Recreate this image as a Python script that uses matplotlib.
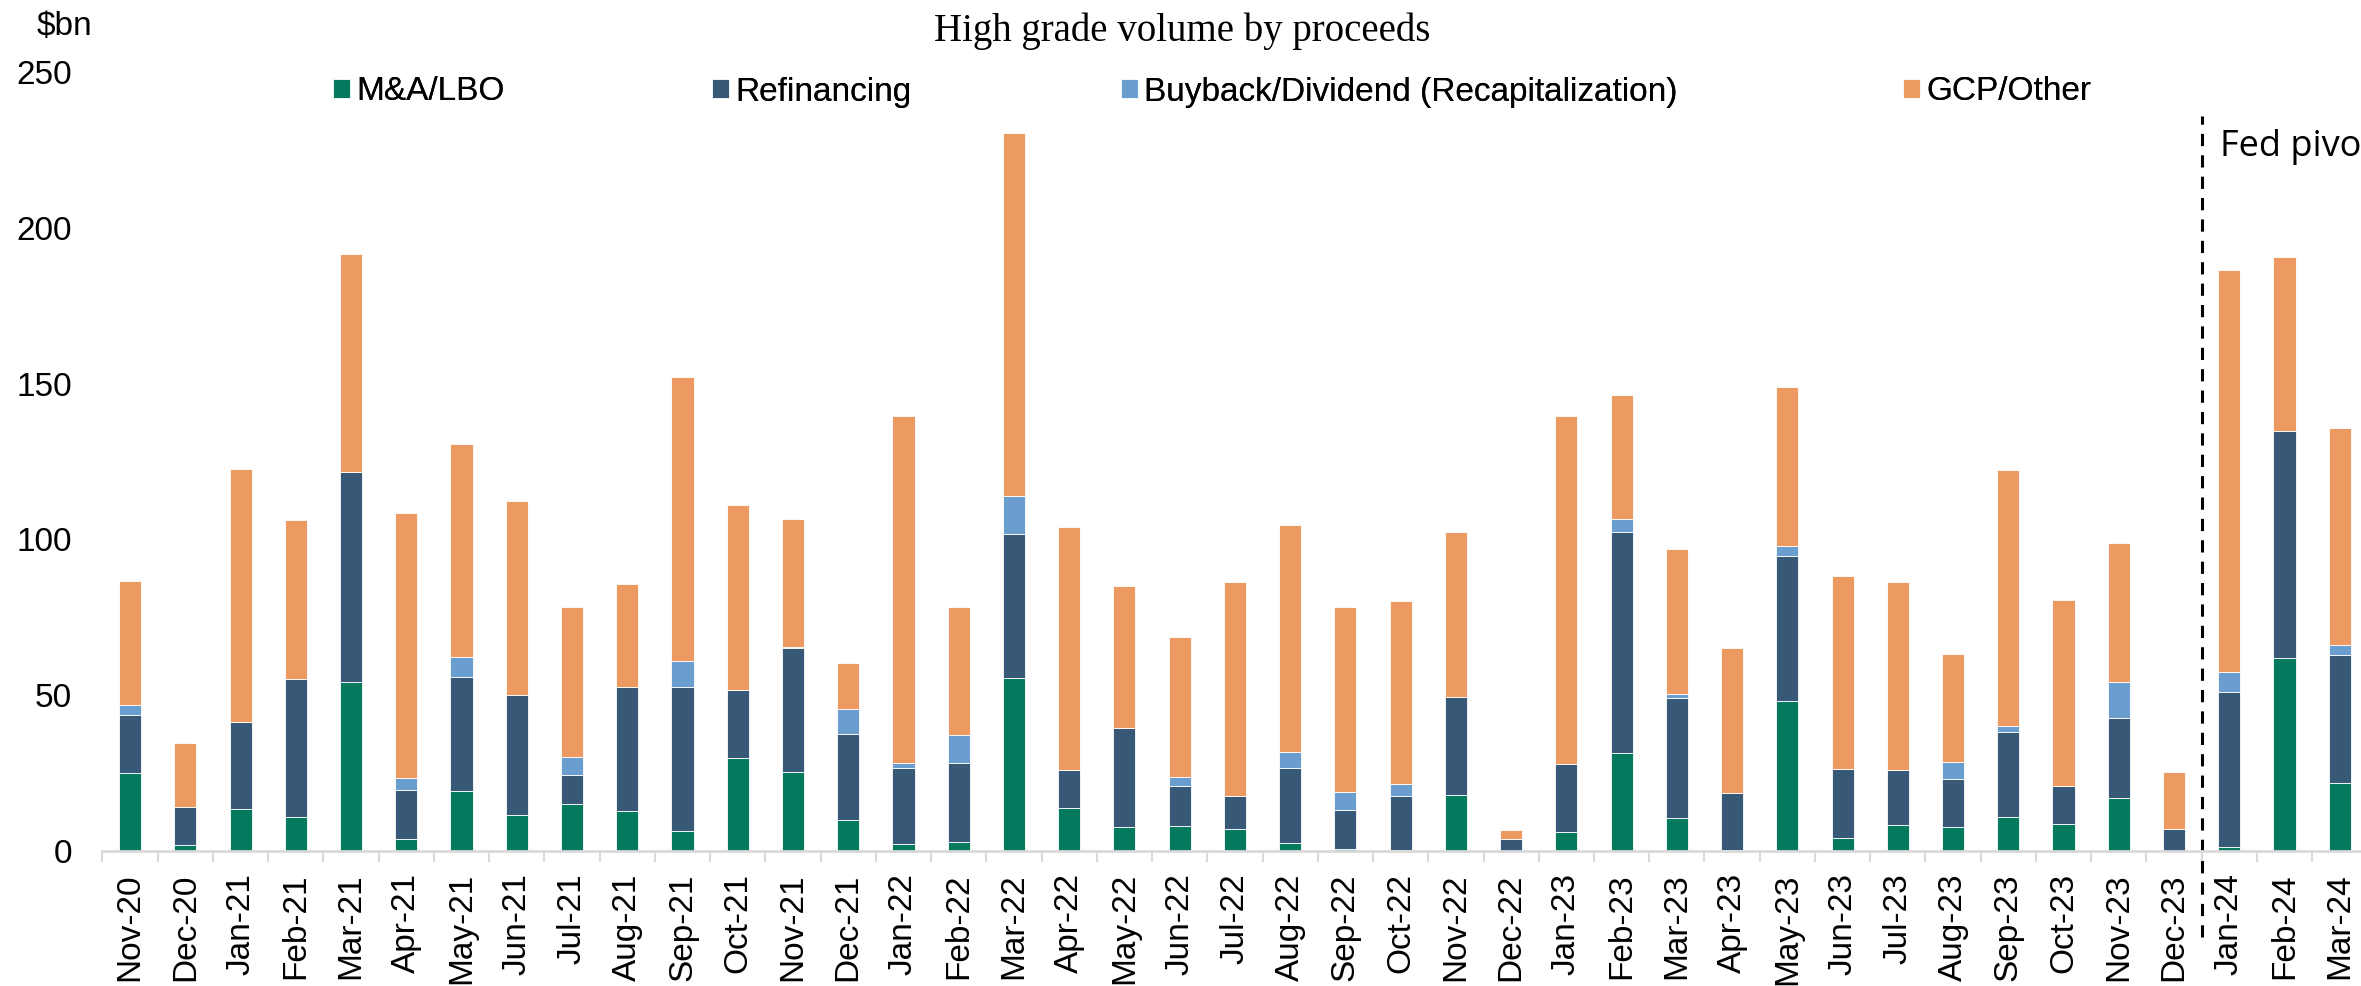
import matplotlib.pyplot as plt
import numpy as np

months = ["Nov-20", "Dec-20", "Jan-21", "Feb-21", "Mar-21", "Apr-21", "May-21", "Jun-21",
          "Jul-21", "Aug-21", "Sep-21", "Oct-21", "Nov-21", "Dec-21", "Jan-22", "Feb-22",
          "Mar-22", "Apr-22", "May-22", "Jun-22", "Jul-22", "Aug-22", "Sep-22", "Oct-22",
          "Nov-22", "Dec-22", "Jan-23", "Feb-23", "Mar-23", "Apr-23", "May-23", "Jun-23",
          "Jul-23", "Aug-23", "Sep-23", "Oct-23", "Nov-23", "Dec-23", "Jan-24", "Feb-24",
          "Mar-24"]

mna = [24.9, 1.9, 13.6, 10.9, 54.4, 3.7, 19.3, 11.5, 15.0, 12.8, 6.4, 30.0, 25.5, 9.9,
       2.2, 3.0, 55.5, 13.9, 7.7, 8.0, 7.2, 2.6, 0.6, 0.3, 18.0, 0.0, 6.1, 31.3, 10.7,
       0.2, 48.0, 4.3, 8.3, 7.7, 10.9, 8.6, 17.1, 0.0, 1.3, 62.1, 21.7]
refi = [18.8, 12.1, 27.7, 44.3, 67.2, 15.8, 36.7, 38.5, 9.4, 39.7, 46.3, 21.6, 39.5, 27.8,
        24.3, 25.4, 46.2, 12.0, 31.7, 12.8, 10.4, 23.9, 12.5, 17.3, 31.5, 3.7, 21.7, 71.2,
        38.3, 18.3, 46.7, 22.0, 17.7, 15.3, 27.2, 12.3, 25.7, 7.2, 49.8, 72.8, 41.2]
buyback = [3.1, 0.0, 0.0, 0.0, 0.0, 3.8, 6.2, 0.0, 5.9, 0.0, 8.4, 0.0, 0.6, 7.8, 1.6, 8.8,
           12.4, 0.0, 0.0, 2.8, 0.0, 5.4, 5.9, 3.8, 0.0, 0.0, 0.0, 4.1, 1.3, 0.0, 3.3, 0.0,
           0.0, 5.6, 2.0, 0.0, 11.6, 0.0, 6.4, 0.0, 3.2]
gcp = [39.9, 20.8, 81.4, 51.1, 70.1, 85.1, 68.4, 62.4, 47.9, 33.2, 91.0, 59.5, 41.0, 15.0,
       111.6, 41.0, 116.4, 78.0, 45.7, 45.0, 68.9, 72.6, 59.2, 58.9, 52.8, 3.2, 111.9, 39.8,
       46.6, 46.6, 50.8, 62.0, 60.5, 34.6, 82.2, 59.7, 44.6, 18.0, 128.9, 55.8, 69.6]

series = [("M&A/LBO", mna, "#037A5E"),
          ("Refinancing", refi, "#385877"),
          ("Buyback/Dividend (Recapitalization)", buyback, "#6A9ECF"),
          ("GCP/Other", gcp, "#EC9A61")]
pivot_after = "Dec-23"

plt.rcParams['font.family'] = ['Liberation Sans', 'DejaVu Sans']

fig = plt.figure(figsize=(23.61, 9.86), dpi=100)
ax = fig.add_axes([0.0434, 0.1369, 0.9593, 0.790])

x = np.arange(len(months))
bottom = np.zeros(len(months))
handles = []
for name, vals, col in series:
    vals = np.array(vals)
    b = ax.bar(x, vals, 0.4, bottom=bottom, color=col, edgecolor="white",
               linewidth=0.6, label=name)
    handles.append(b)
    bottom += vals

ax.set_xlim(-0.5, len(months) - 0.5)
ax.set_ylim(0, 250)
ax.set_yticks([0, 50, 100, 150, 200, 250])
ax.tick_params(axis="y", length=0, pad=22, labelsize=24)
ax.set_xticks(x)
ax.set_xticklabels(months, rotation=90, fontsize=24)
ax.tick_params(axis="x", which="major", length=0, pad=16)
ax.set_xticks(np.arange(-0.5, len(months)), minor=True)
ax.tick_params(axis="x", which="minor", length=8, width=1.5, color="#D9D9D9")
for s in ["top", "right", "left"]:
    ax.spines[s].set_visible(False)
ax.spines["bottom"].set_color("#D9D9D9")
ax.spines["bottom"].set_linewidth(2)

# Fed pivot marker
xp = months.index(pivot_after) + 0.5
ax.plot([xp, xp], [-27.6, 236], color="black", lw=2.2, ls=(0, (4, 3)), clip_on=False)
ax.text(xp + 0.34, 226, "Fed pivot", fontsize=26, family=["Open Sans", "DejaVu Sans"],
        va="center", ha="left", clip_on=False)

fig.text(1182 / 2361, 1 - 31 / 986, "High grade volume by proceeds", fontsize=28,
         family=["Liberation Serif", "DejaVu Serif"], ha="center", va="center")
fig.text(37 / 2361, 1 - 27 / 986, "$bn", fontsize=24, ha="left", va="center")

leg_x = [333, 712, 1121, 1903]
for h, lx in zip(handles, leg_x):
    lg = fig.legend([h], [h.get_label()], loc="center left",
                    bbox_to_anchor=(lx / 2361, 1 - 92 / 986), frameon=False,
                    fontsize=24, handlelength=0.5, handleheight=0.5,
                    handletextpad=0.2, borderpad=0, borderaxespad=0)
    fig.add_artist(lg)

fig.savefig("out.png", dpi=100)
